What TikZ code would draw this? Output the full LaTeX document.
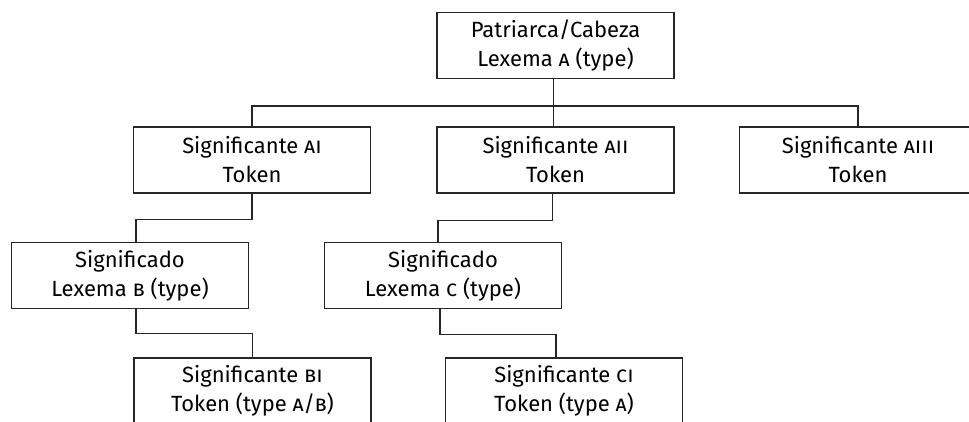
\documentclass[tikz,border=0pt]{standalone}
\usepackage{fontspec}
\setmainfont{Fira Sans}
\usepackage{xcolor}
\usepackage{tikz}

\begin{document}
\begin{tikzpicture}[x=1pt,y=1pt,
        box/.style={draw=black!85,line width=1.2pt,minimum width=237pt,minimum height=66pt,
            align=center,inner sep=0pt,font=\fontsize{22}{29}\selectfont},
        link/.style={draw=black!85,line width=1.2pt}]
        \clip (0,0) rectangle (969,421);
        \node [box] (top) at (555.5,375.5) {Patriarca/Cabeza\\Lexema \textsc{a} (type)};
        \node [box] (ai) at (252,261) {Significante \textsc{ai}\\Token};
        \node [box] (aii) at (555.5,261) {Significante \textsc{aii}\\Token};
        \node [box] (aiii) at (858,261) {Significante \textsc{aiii}\\Token};
        \node [box] (b) at (130,145.5) {Significado\\Lexema \textsc{b} (type)};
        \node [box] (c) at (443,145.5) {Significado\\Lexema \textsc{c} (type)};
        \node [box] (bi) at (252.5,30) {Significante \textsc{bi}\\Token (type \textsc{a/b})};
        \node [box] (ci) at (564,30) {Significante \textsc{ci}\\Token (type \textsc{a})};
        \draw [link] ([xshift=-2pt]top.south) -- ++(0,-27) coordinate (bus);
        \draw [link] (ai.north) |- (bus) -| (aiii.north);
        \draw [link] (bus) -- ([xshift=-2pt]aii.north);
        \draw [link] (ai.south) -- ++(0,-26) -| ([xshift=6pt]b.north);
        \draw [link] ([xshift=6pt]b.south) -- ++(0,-24) -| (bi.north);
        \draw [link] ([xshift=-3pt]aii.south) -- ++(0,-27) -| ([xshift=-5pt]c.north);
        \draw [link] ([xshift=-3pt]c.south) -- ++(0,-25) -| ([xshift=-8pt]ci.north);
\end{tikzpicture}
\end{document}
